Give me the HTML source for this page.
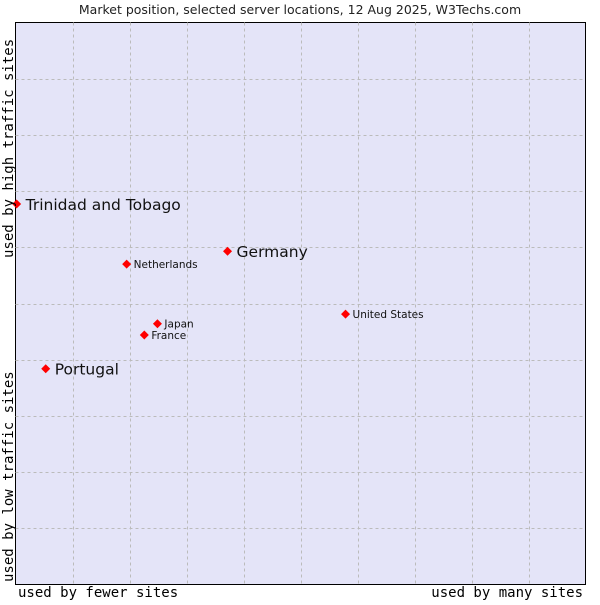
<!DOCTYPE html>
<html><head><meta charset="utf-8"><style>
body{margin:0;background:#fff;width:600px;height:600px;overflow:hidden}
svg text{font-family:"DejaVu Sans","Liberation Sans",sans-serif}
svg text.mono{font-family:"DejaVu Sans Mono","Liberation Mono",monospace}
</style></head><body>
<svg id="c" width="600" height="600" xmlns="http://www.w3.org/2000/svg">
<text x="300" y="14" text-anchor="middle" font-size="12.5" fill="#222">Market position, selected server locations, 12 Aug 2025, W3Techs.com</text>
<rect x="15.5" y="22.5" width="570" height="562" fill="#e4e4f8" stroke="#000"/>
<g id="grid"></g>
<g id="pts"></g>
<text class="mono" x="18" y="597" font-size="14" fill="#000">used by fewer sites</text>
<text class="mono" x="583" y="597" text-anchor="end" font-size="14" fill="#000">used by many sites</text>
<text class="mono" transform="translate(13,258) rotate(-90)" font-size="14" fill="#000">used by high traffic sites</text>
<text class="mono" transform="translate(13,582) rotate(-90)" font-size="14" fill="#000">used by low traffic sites</text>
</svg>
<script>
const names=["Trinidad and Tobago","Germany","Netherlands","United States","Japan","France","Portugal"];
const xVals=[0.02,3.72,1.95,5.79,2.49,2.26,0.53];
const yVals=[6.77,5.93,5.70,4.81,4.64,4.44,3.84];
const big=[true,true,false,false,false,false,true];
const NS="http://www.w3.org/2000/svg";
const X0=15.5,X1=585.5,Y0=584.5,Y1=22.5;
const sx=v=>X0+v/10*(X1-X0), sy=v=>Y0-v/10*(Y0-Y1);
const grid=document.getElementById('grid');
for(let i=1;i<10;i++){
 const a=document.createElementNS(NS,'line');
 
 
 const gx=Math.round(sx(i))+0.5;
 a.setAttribute('x1',gx);a.setAttribute('x2',gx);a.setAttribute('y1',Y1);a.setAttribute('y2',Y0);
 a.setAttribute('stroke','#bbb');a.setAttribute('stroke-dasharray','3,3');grid.appendChild(a);
 const b=document.createElementNS(NS,'line');
 
 
 const gy=Math.round(sy(i))+0.5;
 b.setAttribute('y1',gy);b.setAttribute('y2',gy);b.setAttribute('x1',X0);b.setAttribute('x2',X1);
 b.setAttribute('stroke','#bbb');b.setAttribute('stroke-dasharray','3,3');grid.appendChild(b);
}
const pts=document.getElementById('pts');
names.forEach((n,i)=>{
 const x=sx(xVals[i]),y=sy(yVals[i]);
 const p=document.createElementNS(NS,'polygon');
 
 
 p.setAttribute('points',`${x},${y-4.5} ${x+4.5},${y} ${x},${y+4.5} ${x-4.5},${y}`);
 p.setAttribute('fill','#f00');pts.appendChild(p);
 const t=document.createElementNS(NS,'text');
 
 
 t.setAttribute('x',x+(big[i]?9:7));t.setAttribute('y',y+(big[i]?6:4));
 t.setAttribute('font-size',big[i]?15.5:10.5);t.setAttribute('fill','#111');
 t.textContent=n;pts.appendChild(t);
});
</script>
</body></html>
